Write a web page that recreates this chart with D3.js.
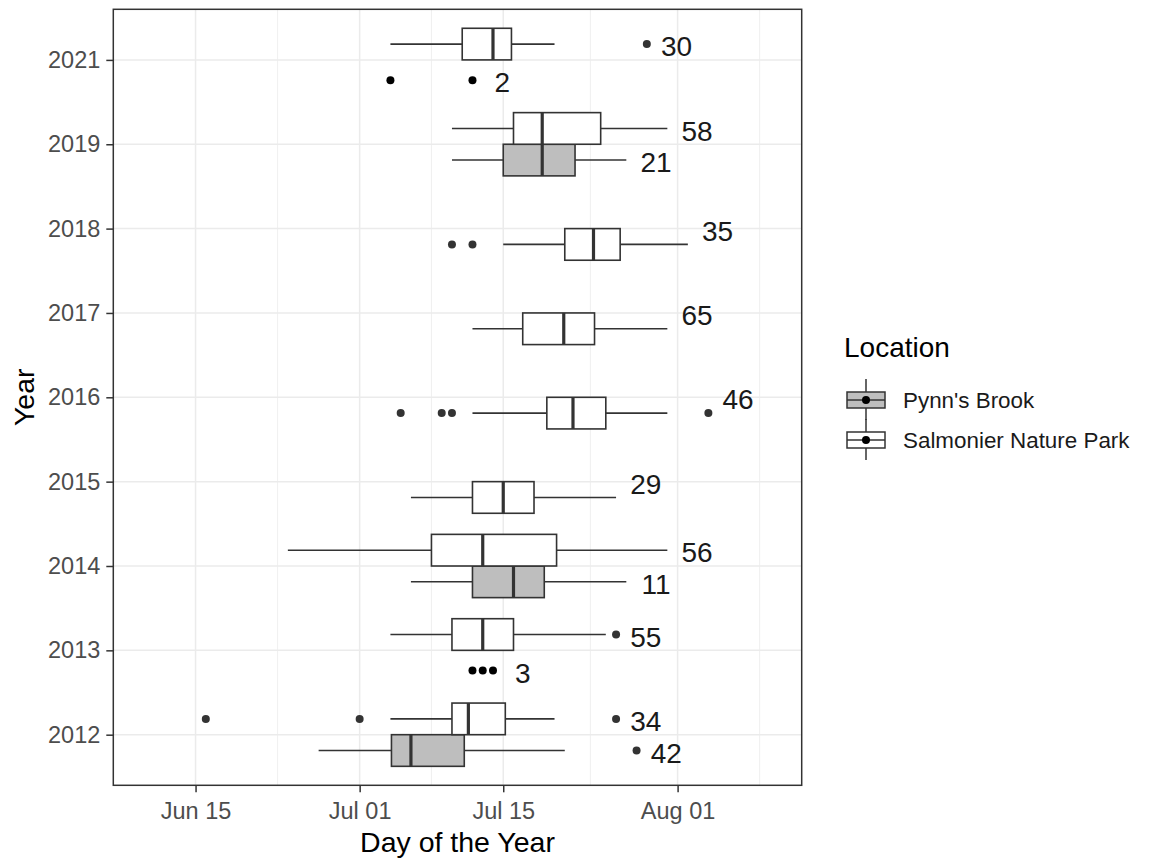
<!DOCTYPE html>
<html>
<head>
<meta charset="utf-8">
<script src="https://cdn.jsdelivr.net/npm/d3@7"></script>
<style>
  html, body { margin: 0; padding: 0; background: #ffffff; }
  svg { display: block; font-family: "Liberation Sans", Arial, sans-serif; }
</style>
</head>
<body>
<svg id="chart" width="1156" height="861"></svg>
<script>
// ---------------- DATA (day of year) ----------------
const years = ["2012", "2013", "2014", "2015", "2016", "2017", "2018", "2019", "2021"];
const locations = ["Pynn's Brook", "Salmonier Nature Park"];

const xTickDays = [166, 182, 196, 213];
const xTickLabels = ["Jun 15", "Jul 01", "Jul 15", "Aug 01"];
const xMinorDays = [174, 189, 204.5, 221];

// Salmonier Nature Park boxplots
const salmonierYear = ["2012", "2013", "2014", "2015", "2016", "2017", "2018", "2019", "2021"];
const salmonierLow = [185, 185, 175, 187, 193, 193, 196, 191, 185];
const salmonierQ1 = [191, 191, 189, 193, 200.25, 197.9, 202, 197, 192];
const salmonierMedian = [192.6, 194, 194, 196, 202.8, 201.9, 204.8, 199.8, 195];
const salmonierQ3 = [196.2, 197, 201.2, 199, 206, 204.9, 207.4, 205.5, 196.8];
const salmonierHigh = [201, 206, 212, 207, 212, 212, 214, 212, 201];
const salmonierOutliers = [[167, 182, 207], [207], [], [], [186, 190, 191, 216], [], [191, 193], [], [210]];
const salmonierN = [34, 55, 56, 29, 46, 65, 35, 58, 30];

// Pynn's Brook boxplots
const pynnsBoxYear = ["2012", "2014", "2019"];
const pynnsLow = [178, 187, 191];
const pynnsQ1 = [185.1, 193, 196];
const pynnsMedian = [187, 197, 199.8];
const pynnsQ3 = [192.2, 200, 203];
const pynnsHigh = [202, 208, 208];
const pynnsOutliers = [[209], [], []];
const pynnsBoxN = [42, 11, 21];

// Pynn's Brook small samples (raw points)
const pynnsPointYear = ["2013", "2021"];
const pynnsPoints = [[193, 194, 195], [185, 193]];
const pynnsPointN = [3, 2];

// ---------------- LAYOUT ----------------
const panel = { left: 113.3, right: 801.7, top: 9.3, bottom: 785.3 };
const FONT = '"Liberation Sans", Arial, sans-serif';
const fills = { "Pynn's Brook": "#bebebe", "Salmonier Nature Park": "#ffffff" };
const ink = "#333333";

const svg = d3.select("#chart");
svg.append("rect").attr("width", 1156).attr("height", 861).attr("fill", "#ffffff");

const x = d3.scaleLinear().domain([157.98, 225.1]).range([panel.left, panel.right]);
const y = d3.scaleLinear().domain([-0.6, years.length - 1 + 0.6]).range([panel.bottom, panel.top]);
const yi = yr => years.indexOf(yr);

const dodge = 0.1875, boxHalf = 0.1875, pointDodge = 0.24;
const pairedYears = new Set([...pynnsBoxYear, ...pynnsPointYear]);

// ---------------- GRID ----------------
const grid = svg.append("g");
grid.selectAll(".minor").data(xMinorDays).join("line")
  .attr("x1", d => x(d)).attr("x2", d => x(d))
  .attr("y1", panel.top).attr("y2", panel.bottom)
  .attr("stroke", "#ebebeb").attr("stroke-width", 0.8);
grid.selectAll(".major").data(xTickDays).join("line")
  .attr("x1", d => x(d)).attr("x2", d => x(d))
  .attr("y1", panel.top).attr("y2", panel.bottom)
  .attr("stroke", "#ebebeb").attr("stroke-width", 1.5);
grid.selectAll(".hmajor").data(years).join("line")
  .attr("x1", panel.left).attr("x2", panel.right)
  .attr("y1", (d, i) => y(i)).attr("y2", (d, i) => y(i))
  .attr("stroke", "#ebebeb").attr("stroke-width", 1.5);

// ---------------- BOXES ----------------
function buildBoxes(yrs, lo, q1, med, q3, hi, outs, ns, loc) {
  return yrs.map((yr, i) => {
    const paired = pairedYears.has(yr);
    let center;
    if (loc === "Salmonier Nature Park") center = yi(yr) + (paired ? dodge : -dodge);
    else center = yi(yr) - dodge;
    const labelPos = paired ? center : yi(yr);
    return { yr, lo: lo[i], q1: q1[i], med: med[i], q3: q3[i], hi: hi[i], outs: outs[i], n: ns[i], loc, center, labelPos };
  });
}
const boxes = [
  ...buildBoxes(pynnsBoxYear, pynnsLow, pynnsQ1, pynnsMedian, pynnsQ3, pynnsHigh, pynnsOutliers, pynnsBoxN, "Pynn's Brook"),
  ...buildBoxes(salmonierYear, salmonierLow, salmonierQ1, salmonierMedian, salmonierQ3, salmonierHigh, salmonierOutliers, salmonierN, "Salmonier Nature Park")
];

const gBox = svg.append("g");
boxes.forEach(b => {
  const g = gBox.append("g");
  const cy = y(b.center);
  const top = y(b.center + boxHalf), bot = y(b.center - boxHalf);
  g.append("line").attr("x1", x(b.lo)).attr("x2", x(b.q1)).attr("y1", cy).attr("y2", cy)
    .attr("stroke", ink).attr("stroke-width", 1.6);
  g.append("line").attr("x1", x(b.q3)).attr("x2", x(b.hi)).attr("y1", cy).attr("y2", cy)
    .attr("stroke", ink).attr("stroke-width", 1.6);
  g.append("rect").attr("x", x(b.q1)).attr("y", top)
    .attr("width", x(b.q3) - x(b.q1)).attr("height", bot - top)
    .attr("fill", fills[b.loc]).attr("stroke", ink).attr("stroke-width", 1.6);
  g.append("line").attr("x1", x(b.med)).attr("x2", x(b.med)).attr("y1", top).attr("y2", bot)
    .attr("stroke", ink).attr("stroke-width", 3.2);
  g.selectAll("circle").data(b.outs).join("circle")
    .attr("cx", d => x(d)).attr("cy", cy).attr("r", 4).attr("fill", ink);
});

// small-sample points
const pointSets = pynnsPointYear.map((yr, i) => ({ yr, pts: pynnsPoints[i], n: pynnsPointN[i], center: yi(yr) - pointDodge }));
pointSets.forEach(p => {
  gBox.append("g").selectAll("circle").data(p.pts).join("circle")
    .attr("cx", d => x(d)).attr("cy", y(p.center)).attr("r", 4).attr("fill", "#000000");
});

// ---------------- COUNT LABELS ----------------
const labelOffsetDays = 2.9;
const labels = [
  ...boxes.map(b => ({ n: b.n, xv: Math.max(b.hi, ...b.outs), pos: b.labelPos })),
  ...pointSets.map(p => ({ n: p.n, xv: Math.max(...p.pts), pos: p.center }))
];
svg.append("g").selectAll("text").data(labels).join("text")
  .attr("x", d => x(d.xv + labelOffsetDays))
  .attr("y", d => y(d.pos) + 2)
  .attr("dy", "0.36em")
  .attr("text-anchor", "middle")
  .attr("font-size", 28).attr("fill", "#1a1a1a")
  .text(d => d.n);

// ---------------- PANEL BORDER ----------------
svg.append("rect").attr("x", panel.left).attr("y", panel.top)
  .attr("width", panel.right - panel.left).attr("height", panel.bottom - panel.top)
  .attr("fill", "none").attr("stroke", ink).attr("stroke-width", 1.5);

// ---------------- AXES ----------------
const xAxis = d3.axisBottom(x).tickValues(xTickDays)
  .tickFormat((d, i) => xTickLabels[i]).tickSize(7).tickPadding(10);
const gx = svg.append("g").attr("transform", `translate(0,${panel.bottom})`).call(xAxis);
gx.select(".domain").remove();
gx.selectAll(".tick line").attr("stroke", ink).attr("stroke-width", 1.5);
gx.selectAll(".tick text").attr("font-size", 23.5).attr("fill", "#4d4d4d").attr("font-family", FONT);

const yAxis = d3.axisLeft(y).tickValues(years.map((d, i) => i))
  .tickFormat(i => years[i]).tickSize(7).tickPadding(6);
const gy = svg.append("g").attr("transform", `translate(${panel.left},0)`).call(yAxis);
gy.select(".domain").remove();
gy.selectAll(".tick line").attr("stroke", ink).attr("stroke-width", 1.5);
gy.selectAll(".tick text").attr("font-size", 23.5).attr("fill", "#4d4d4d").attr("font-family", FONT);

// axis titles
svg.append("text").attr("x", (panel.left + panel.right) / 2).attr("y", 852)
  .attr("text-anchor", "middle").attr("font-size", 28.5).attr("fill", "#000")
  .text("Day of the Year");
svg.append("text").attr("transform", `translate(34,${(panel.top + panel.bottom) / 2}) rotate(-90)`)
  .attr("text-anchor", "middle").attr("font-size", 28.5).attr("fill", "#000")
  .text("Year");

// ---------------- LEGEND ----------------
const legend = svg.append("g");
legend.append("text").attr("x", 844).attr("y", 357).attr("font-size", 28).attr("fill", "#000").text("Location");
const keyCx = 866, keyY0 = 400, keyStep = 40;
locations.forEach((loc, i) => {
  const cy = keyY0 + i * keyStep;
  const k = legend.append("g");
  k.append("line").attr("x1", keyCx).attr("x2", keyCx).attr("y1", cy - 21).attr("y2", cy + 20)
    .attr("stroke", ink).attr("stroke-width", 1.5);
  k.append("rect").attr("x", keyCx - 19).attr("y", cy - 8).attr("width", 38).attr("height", 16)
    .attr("fill", fills[loc]).attr("stroke", ink).attr("stroke-width", 1.5);
  k.append("line").attr("x1", keyCx - 19).attr("x2", keyCx + 19).attr("y1", cy).attr("y2", cy)
    .attr("stroke", ink).attr("stroke-width", 1.5);
  k.append("circle").attr("cx", keyCx).attr("cy", cy).attr("r", 4).attr("fill", "#000");
  legend.append("text").attr("x", 903).attr("y", cy).attr("dy", "0.36em")
    .attr("font-size", 22.4).attr("fill", "#1a1a1a").text(loc);
});
</script>
</body>
</html>
